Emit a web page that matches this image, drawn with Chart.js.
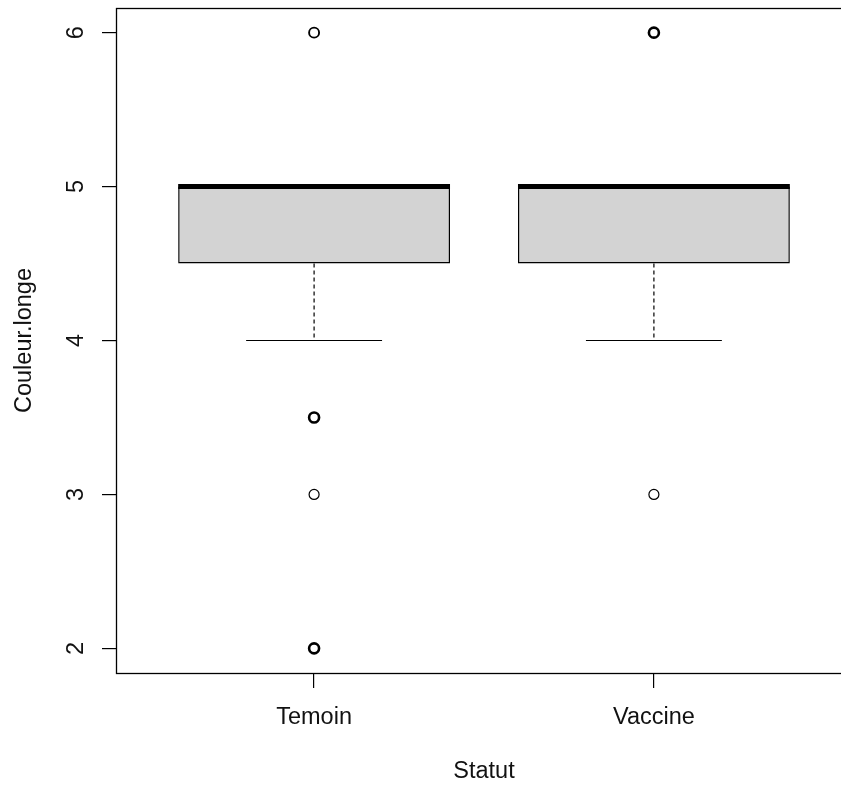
<!DOCTYPE html>
<html>
<head>
<meta charset="utf-8">
<script src="https://cdn.jsdelivr.net/npm/chart.js@4.4.0/dist/chart.umd.min.js"></script>
<style>
html, body { margin: 0; padding: 0; background: #fff; overflow: hidden; }
#wrap { width: 841px; height: 786px; overflow: hidden; }
</style>
</head>
<body>
<div id="wrap"><canvas id="boxChart" width="860" height="786"></canvas></div>
<script>
// boxplot Couleur.longe ~ Statut, drawn with Chart.js

var categories = ['Temoin', 'Vaccine'];
var q1Values = [4.5, 4.5];
var medianValues = [5, 5];
var q3Values = [5, 5];
var lowWhisker = [4, 4];
var highWhisker = [5, 5];
// outliers, and how many points are stacked on each one
var temoinOutliers = [6, 3.5, 3, 2];
var temoinOutlierCounts = [2, 3, 1, 3];
var vaccineOutliers = [6, 3];
var vaccineOutlierCounts = [3, 1];
var yTickValues = [2, 3, 4, 5, 6];

var FONT = "'Liberation Sans', Arial, Helvetica, sans-serif";
var FONT_SIZE = 23.5;
var BOX_HALF = 0.4;
var CAP_HALF = 0.2;

// build line pieces for every group, split by null gaps
function pieces(fn) {
    var pts = [];
    categories.forEach(function(c, i) {
        fn(i + 1, i).forEach(function(p) { pts.push(p); });
        pts.push({ x: i + 1.5, y: null });
    });
    return pts;
}

var boxData = categories.map(function(c, i) {
    return { x: i + 1, y: [q1Values[i], q3Values[i]] };
});

var medianData = pieces(function(x, i) {
    return [{ x: x - BOX_HALF, y: medianValues[i] }, { x: x + BOX_HALF, y: medianValues[i] }];
});

var whiskerData = pieces(function(x, i) {
    return [{ x: x, y: q1Values[i] }, { x: x, y: lowWhisker[i] }, { x: x + 0.01, y: null },
            { x: x, y: q3Values[i] }, { x: x, y: highWhisker[i] }];
});

var capData = pieces(function(x, i) {
    return [{ x: x - CAP_HALF, y: lowWhisker[i] }, { x: x + CAP_HALF, y: lowWhisker[i] }, { x: x, y: null },
            { x: x - CAP_HALF, y: highWhisker[i] }, { x: x + CAP_HALF, y: highWhisker[i] }];
});

var outlierData = [];
var outlierWidths = [];
[[temoinOutliers, temoinOutlierCounts], [vaccineOutliers, vaccineOutlierCounts]].forEach(function(g, i) {
    g[0].forEach(function(v, k) {
        outlierData.push({ x: i + 1, y: v });
        outlierWidths.push(0.5 + 0.7 * g[1][k]); // overlapping points look bolder
    });
});

// frame around the plot + rotated y tick labels (R style)
var framePlugin = {
    id: 'frame',
    afterDraw: function(chart) {
        var ctx = chart.ctx;
        var a = chart.chartArea;
        ctx.save();
        ctx.strokeStyle = '#000';
        ctx.lineWidth = 1.3;
        ctx.strokeRect(Math.round(a.left) - 0.5, Math.round(a.top) + 0.5,
                       Math.round(a.right - a.left) + 1, Math.round(a.bottom - a.top));
        var ys = chart.scales.y;
        ctx.fillStyle = '#111';
        ctx.font = FONT_SIZE + 'px ' + FONT;
        ctx.textAlign = 'center';
        ctx.textBaseline = 'middle';
        ys.ticks.forEach(function(t) {
            var py = ys.getPixelForValue(t.value);
            ctx.save();
            ctx.translate(77, py);
            ctx.rotate(-Math.PI / 2);
            ctx.fillText(String(t.value), 0, 0);
            ctx.restore();
        });
        ctx.restore();
    }
};

var lineBase = { type: 'line', pointRadius: 0, borderColor: '#000', spanGaps: false, tension: 0, fill: false };

new Chart(document.getElementById('boxChart'), {
    type: 'scatter',
    data: {
        datasets: [
            {
                type: 'bar', data: boxData, order: 4,
                backgroundColor: '#d3d3d3', borderColor: '#000', borderWidth: 1.5, borderSkipped: false,
                barPercentage: 1, categoryPercentage: 0.8
            },
            Object.assign({}, lineBase, { data: whiskerData, order: 3, borderWidth: 1.2, borderDash: [4, 3] }),
            Object.assign({}, lineBase, { data: capData, order: 2, borderWidth: 1.2 }),
            Object.assign({}, lineBase, { data: medianData, order: 1, borderWidth: 5, borderCapStyle: 'butt' }),
            {
                type: 'scatter', data: outlierData, order: 0,
                pointStyle: 'circle', pointRadius: 5, pointBackgroundColor: 'rgba(0,0,0,0)',
                pointBorderColor: '#000', pointBorderWidth: outlierWidths
            }
        ]
    },
    options: {
        responsive: false,
        animation: false,
        layout: { padding: { top: 8, right: 9, left: 0, bottom: 0 } },
        plugins: { legend: { display: false }, tooltip: { enabled: false } },
        scales: {
            x: {
                type: 'linear', min: 0.42, max: 2.58, offset: false,
                afterBuildTicks: function(scale) {
                    scale.ticks = categories.map(function(c, i) { return { value: i + 1 }; });
                },
                afterFit: function(scale) { scale.height = 113; },
                ticks: {
                    color: '#111', font: { family: FONT, size: FONT_SIZE }, padding: 15,
                    maxRotation: 0, minRotation: 0,
                    callback: function(v) { return categories[v - 1]; }
                },
                grid: { display: true, drawOnChartArea: false, drawTicks: true, tickLength: 15, color: '#000', lineWidth: 1.2, offset: false },
                border: { display: false },
                title: { display: true, text: 'Statut', color: '#111', font: { family: FONT, size: FONT_SIZE }, padding: { top: 0, bottom: 0 } }
            },
            y: {
                type: 'linear', min: 1.84, max: 6.16,
                afterBuildTicks: function(scale) {
                    scale.ticks = yTickValues.map(function(v) { return { value: v }; });
                },
                afterFit: function(scale) { scale.width = 117; },
                ticks: { display: false },
                grid: { display: true, drawOnChartArea: false, drawTicks: true, tickLength: 15, color: '#000', lineWidth: 1.2 },
                border: { display: false },
                title: { display: true, text: 'Couleur.longe', color: '#111', font: { family: FONT, size: FONT_SIZE }, padding: { top: 10, bottom: 0 } }
            }
        }
    },
    plugins: [framePlugin]
});
</script>
</body>
</html>
